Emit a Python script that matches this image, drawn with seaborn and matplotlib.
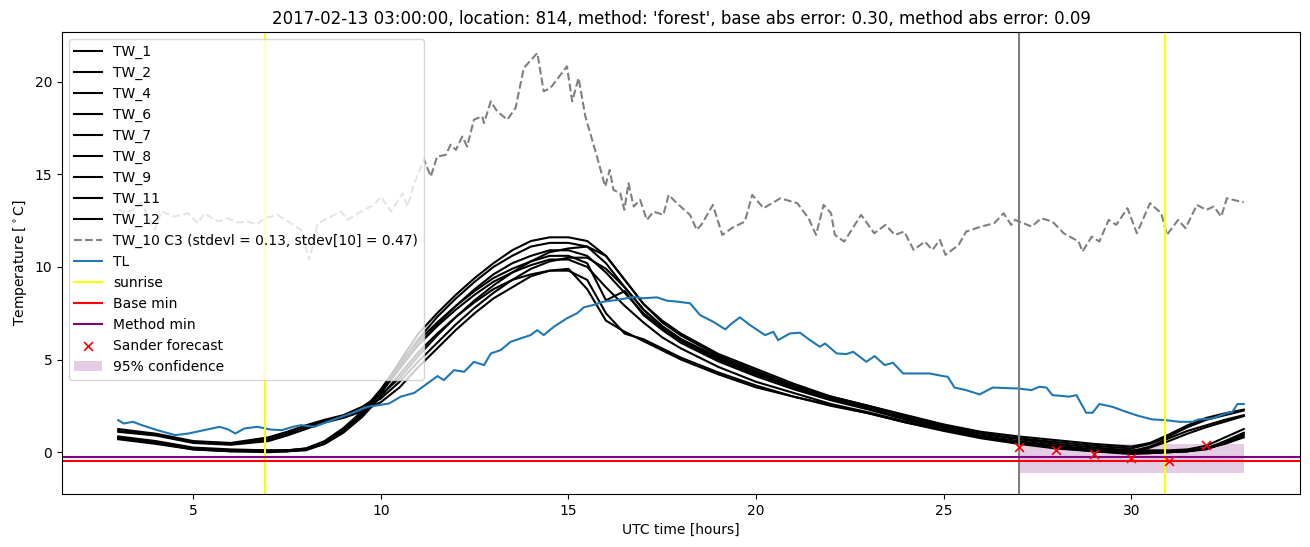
"""
Temperature curves for one station night: road sensors (TW), air (TL)
and minimum forecasts.
"""
import numpy as np
import pandas as pd
import matplotlib
matplotlib.use("Agg")
import matplotlib.pyplot as plt
import seaborn as sns

# --- data ----------------------------------------------------------------
TW_HOURS = [3, 4, 5, 6, 7, 7.5, 8, 8.5, 9, 9.5, 10, 10.5, 11, 11.5, 12, 12.5,
            13, 13.5, 14, 14.5, 15, 15.5, 16, 16.5, 17, 17.5, 18, 19, 20, 21,
            22, 23, 24, 25, 26, 27, 28, 29, 30, 30.5, 31, 31.5, 32, 32.5, 33]

TW_1 = [1.25, 1.0, 0.6, 0.5, 0.8, 1.1, 1.45, 1.75, 2.0, 2.45, 3.1, 4.0, 5.2, 6.3,
        7.3, 8.2, 9.0, 9.7, 10.3, 10.8, 11.0, 11.1, 10.6, 9.3, 8.0, 7.1, 6.4,
        5.3, 4.5, 3.7, 3.0, 2.5, 2.0, 1.5, 1.1, 0.85, 0.65, 0.45, 0.3, 0.5,
        0.95, 1.45, 1.85, 2.1, 2.3]
TW_2 = [1.15, 0.95, 0.55, 0.45, 0.7, 1.0, 1.35, 1.7, 1.95, 2.3, 2.9, 3.8, 4.9,
        5.9, 6.9, 7.8, 8.6, 9.3, 9.9, 10.3, 10.5, 10.5, 9.9, 8.9, 7.7, 6.8, 6.1,
        5.1, 4.3, 3.5, 2.9, 2.4, 1.9, 1.4, 1.0, 0.75, 0.55, 0.35, 0.2, 0.45,
        0.85, 1.35, 1.75, 2.0, 2.25]
TW_4 = [1.1, 0.9, 0.5, 0.4, 0.6, 0.9, 1.25, 1.6, 1.85, 2.2, 2.7, 3.5, 4.6, 5.6,
        6.6, 7.5, 8.3, 8.9, 9.5, 9.8, 9.9, 8.8, 7.1, 6.5, 6.0, 5.5, 5.0, 4.2,
        3.5, 3.0, 2.5, 2.1, 1.6, 1.2, 0.8, 0.5, 0.3, 0.15, 0.05, 0.3, 0.75,
        1.15, 1.45, 1.75, 2.0]
TW_6 = [0.85, 0.6, 0.25, 0.15, 0.1, 0.1, 0.15, 0.55, 1.2, 2.1, 3.3, 4.9, 6.4,
        7.5, 8.5, 9.4, 10.2, 10.9, 11.4, 11.6, 11.6, 11.4, 10.6, 9.3, 8.0, 7.0,
        6.3, 5.2, 4.4, 3.6, 3.0, 2.5, 1.95, 1.45, 1.0, 0.7, 0.45, 0.25, 0.1,
        0.1, 0.1, 0.15, 0.35, 0.8, 1.25]
TW_7 = [0.8, 0.55, 0.2, 0.1, 0.05, 0.05, 0.1, 0.45, 1.1, 2.0, 3.2, 4.7, 6.1,
        7.3, 8.3, 9.2, 10.0, 10.6, 11.1, 11.3, 11.3, 11.1, 10.2, 8.9, 7.7, 6.8,
        6.1, 5.1, 4.3, 3.5, 2.9, 2.4, 1.85, 1.35, 0.9, 0.6, 0.35, 0.15, 0.0,
        0.0, 0.0, 0.05, 0.2, 0.6, 1.05]
TW_8 = [0.75, 0.5, 0.2, 0.1, 0.05, 0.1, 0.2, 0.6, 1.3, 2.2, 3.4, 4.8, 6.0, 7.0,
        7.9, 8.8, 9.6, 10.2, 10.6, 10.9, 10.9, 10.6, 9.7, 8.6, 7.5, 6.7, 6.0,
        5.0, 4.2, 3.5, 2.85, 2.35, 1.8, 1.3, 0.85, 0.55, 0.3, 0.1, -0.05,
        -0.05, 0.0, 0.05, 0.15, 0.5, 0.9]
TW_9 = [0.7, 0.45, 0.15, 0.05, 0.05, 0.05, 0.15, 0.5, 1.15, 2.05, 3.2, 4.5,
        5.8, 6.9, 7.9, 8.7, 9.4, 9.9, 10.3, 10.6, 10.6, 10.2, 8.2, 8.7, 7.4,
        6.6, 5.9, 4.9, 4.1, 3.4, 2.8, 2.3, 1.75, 1.25, 0.8, 0.5, 0.25, 0.05,
        -0.05, 0.25, 0.6, 1.0, 1.35, 1.65, 1.95]
TW_11 = [0.8, 0.55, 0.2, 0.1, 0.1, 0.1, 0.2, 0.55, 1.2, 2.1, 3.3, 4.6, 5.8,
         6.8, 7.7, 8.5, 9.2, 9.7, 10.1, 10.4, 10.4, 10.0, 8.9, 7.9, 7.0, 6.2,
         5.6, 4.6, 3.8, 3.2, 2.6, 2.15, 1.65, 1.2, 0.8, 0.5, 0.25, 0.1, 0.0,
         0.0, 0.05, 0.1, 0.2, 0.45, 0.8]
TW_12 = [0.75, 0.5, 0.15, 0.05, 0.0, 0.05, 0.15, 0.45, 1.05, 1.9, 3.0, 4.2,
         5.4, 6.4, 7.3, 8.1, 8.8, 9.3, 9.6, 9.8, 9.8, 9.3, 7.5, 6.4, 6.1, 5.6,
         5.1, 4.3, 3.6, 3.0, 2.55, 2.1, 1.6, 1.15, 0.75, 0.45, 0.2, 0.05, -0.1,
         -0.05, 0.0, 0.05, 0.2, 0.55, 1.0]

TW_NAMES = ["TW_1", "TW_2", "TW_4", "TW_6", "TW_7", "TW_8", "TW_9", "TW_11", "TW_12"]
TW_VALUES = [TW_1, TW_2, TW_4, TW_6, TW_7, TW_8, TW_9, TW_11, TW_12]

TW10_HOURS = [3.0, 3.2, 3.4, 3.62, 3.97, 4.15, 4.5, 4.86, 5.12, 5.3, 5.66, 5.92,
              6.2, 6.45, 6.7, 6.9, 7.25, 7.6, 7.87, 8.09, 8.32, 8.58, 8.94,
              9.11, 9.47, 9.82, 10.0, 10.27, 10.58, 10.71, 10.89, 11.15, 11.33,
              11.5, 11.73, 11.86, 12.0, 12.17, 12.3, 12.48, 12.7, 12.75, 12.93,
              13.1, 13.37, 13.59, 13.81, 14.17, 14.34, 14.52, 14.96, 15.1,
              15.27, 15.45, 15.76, 15.98, 16.1, 16.2, 16.38, 16.49, 16.6,
              16.74, 16.91, 17.09, 17.27, 17.53, 17.67, 17.89, 18.24, 18.42,
              18.55, 18.85, 19.1, 19.35, 19.7, 19.9, 20.2, 20.65, 21.1, 21.4,
              21.6, 21.8, 22.0, 22.1, 22.35, 22.8, 23.15, 23.45, 23.7, 23.95,
              24.2, 24.5, 24.7, 24.9, 25.05, 25.4, 25.6, 26.0, 26.35, 26.6,
              26.8, 26.9, 27.35, 27.6, 27.9, 28.2, 28.6, 28.7, 28.95, 29.15,
              29.4, 29.6, 29.9, 30.15, 30.5, 30.8, 30.95, 31.25, 31.45, 31.75,
              32.0, 32.2, 32.4, 32.55, 32.9, 33.0]
TW10_VALUES = [13.1, 12.9, 13.1, 13.44, 12.0, 12.99, 12.72, 12.9, 12.36, 12.9,
               12.45, 12.63, 12.4, 12.45, 12.3, 12.63, 12.81, 12.36, 12.0,
               10.38, 12.36, 12.63, 12.99, 12.54, 12.99, 13.35, 13.8, 12.99,
               13.98, 13.26, 14.52, 15.8, 14.88, 15.96, 16.05, 16.6, 16.32,
               17.04, 16.5, 17.95, 18.13, 17.77, 18.94, 18.4, 17.95, 18.58,
               20.74, 21.55, 19.48, 19.66, 20.83, 18.94, 20.2, 18.13, 15.96,
               14.34, 15.24, 14.16, 13.98, 13.08, 14.52, 13.26, 13.62, 12.54,
               12.99, 12.81, 13.89, 13.44, 12.81, 12.0, 12.3, 13.35, 11.73,
               12.09, 12.45, 13.89, 13.17, 13.71, 13.44, 12.63, 11.73, 13.35,
               12.9, 11.73, 11.37, 12.81, 11.82, 12.27, 11.73, 11.91, 10.92,
               11.37, 10.92, 11.46, 10.65, 11.19, 11.91, 12.18, 12.36, 12.9,
               12.27, 12.54, 12.18, 12.63, 12.45, 11.82, 11.37, 10.83, 11.64,
               11.37, 12.54, 12.27, 13.17, 11.82, 13.44, 12.9, 11.73, 12.54,
               12.09, 13.35, 13.08, 13.26, 12.72, 13.71, 13.53, 13.5]

TL_HOURS = [3.0, 3.15, 3.39, 3.63, 4.04, 4.52, 4.87, 5.29, 5.7, 5.94, 6.12,
            6.36, 6.71, 7.07, 7.36, 7.66, 7.87, 8.23, 8.58, 9.2, 9.65, 10.22,
            10.53, 10.89, 11.24, 11.51, 11.68, 11.95, 12.22, 12.48, 12.75,
            12.93, 13.19, 13.46, 13.72, 13.99, 14.17, 14.34, 14.61, 14.96,
            15.23, 15.41, 15.67, 15.94, 16.3, 16.74, 17.0, 17.36, 17.62, 17.89,
            18.24, 18.51, 18.86, 19.18, 19.35, 19.57, 19.84, 20.24, 20.46,
            20.59, 20.9, 21.17, 21.44, 21.7, 21.84, 22.15, 22.41, 22.59, 22.94,
            23.16, 23.43, 23.65, 23.92, 24.27, 24.63, 24.98, 25.11, 25.29,
            25.6, 25.96, 26.31, 26.67, 26.98, 27.34, 27.55, 27.74, 27.9, 28.35,
            28.54, 28.8, 28.97, 29.15, 29.5, 29.86, 30.21, 30.56, 30.92, 31.28,
            31.63, 31.8, 32.16, 32.52, 32.7, 32.83, 33.0]
TL_VALUES = [1.73, 1.55, 1.64, 1.46, 1.19, 0.92, 1.01, 1.19, 1.37, 1.22, 1.01,
             1.28, 1.37, 1.22, 1.19, 1.37, 1.46, 1.37, 1.64, 2.09, 2.45, 2.63,
             3.0, 3.2, 3.71, 4.11, 3.89, 4.43, 4.34, 4.88, 4.7, 5.33, 5.51,
             5.96, 6.14, 6.32, 6.59, 6.32, 6.77, 7.23, 7.5, 7.82, 7.95, 8.13,
             8.22, 8.38, 8.31, 8.36, 8.18, 8.13, 8.04, 7.4, 7.04, 6.63, 6.95,
             7.28, 6.86, 6.32, 6.5, 6.05, 6.41, 6.45, 6.05, 5.69, 5.87, 5.33,
             5.3, 5.42, 4.88, 5.19, 4.7, 4.83, 4.25, 4.25, 4.25, 4.11, 4.07,
             3.49, 3.35, 3.12, 3.49, 3.46, 3.44, 3.35, 3.53, 3.49, 3.08, 3.0,
             3.08, 2.13, 2.13, 2.6, 2.45, 2.18, 1.95, 1.77, 1.73, 1.64, 1.64,
             1.77, 1.82, 2.09, 2.18, 2.6, 2.6]

SUNRISE_HOURS = [6.9, 30.9]
FORECAST_START = 27.0
BASE_MIN = -0.47
METHOD_MIN = -0.26

SANDER_HOURS = [27, 28, 29, 30, 31, 32]
SANDER_VALUES = [0.29, 0.11, -0.11, -0.34, -0.49, 0.41]

CONF_HOURS = [27, 33]
CONF_LOW = [-1.12, -1.12]
CONF_HIGH = [0.43, 0.43]

TITLE = ("2017-02-13 03:00:00, location: 814, method: 'forest', "
         "base abs error: 0.30, method abs error: 0.09")
TW10_LABEL = "TW_10 C3 (stdevl = 0.13, stdev[10] = 0.47)"

# --- plot ----------------------------------------------------------------
fig, ax = plt.subplots(figsize=(13.1, 5.47), dpi=100)
fig.subplots_adjust(left=0.0473, right=0.9924, bottom=0.097, top=0.9415)

for name, vals in zip(TW_NAMES, TW_VALUES):
    sns.lineplot(x=TW_HOURS, y=vals, ax=ax, color="black", label=name)

sns.lineplot(x=TW10_HOURS, y=TW10_VALUES, ax=ax, color="grey",
             linestyle="--", label=TW10_LABEL)
sns.lineplot(x=TL_HOURS, y=TL_VALUES, ax=ax, color="tab:blue", label="TL")

ax.axvline(SUNRISE_HOURS[0], color="yellow", label="sunrise")
ax.axvline(SUNRISE_HOURS[1], color="yellow")
ax.axvline(FORECAST_START, color="grey")
ax.axhline(BASE_MIN, color="red", label="Base min")
ax.axhline(METHOD_MIN, color="purple", label="Method min")

sander = pd.DataFrame({"hour": SANDER_HOURS, "temp": SANDER_VALUES})
sns.scatterplot(data=sander, x="hour", y="temp", ax=ax, marker="x",
                color="red", s=40, linewidth=1.2, label="Sander forecast",
                zorder=3)

ax.fill_between(CONF_HOURS, CONF_LOW, CONF_HIGH, color="purple", alpha=0.2,
                linewidth=0, label="95% confidence")

ax.set_title(TITLE)
ax.set_xlabel("UTC time [hours]")
ax.set_ylabel(r"Temperature [$^\circ$C]")
ax.legend(loc="upper left")

fig.savefig("out.png", dpi=100)
